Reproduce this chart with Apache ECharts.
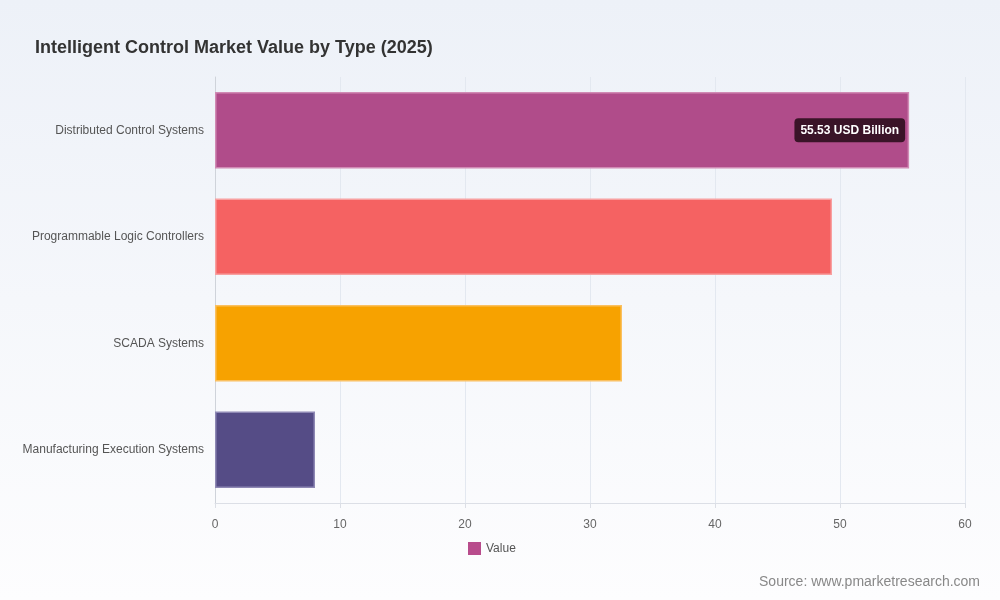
<!DOCTYPE html>
<html>
<head>
<meta charset="utf-8">
<script src="https://cdn.jsdelivr.net/npm/echarts@6/dist/echarts.min.js"></script>
<style>
  html, body { margin: 0; padding: 0; }
  #market-type { width: 1000px; height: 600px; }
</style>
</head>
<body>
<div id="market-type"></div>
<script>
var categories = [
  "Distributed Control Systems",
  "Programmable Logic Controllers",
  "SCADA Systems",
  "Manufacturing Execution Systems"
];
var values = [55.53, 49.36, 32.56, 8.0];
var barColors = ["#b04c8a", "#f56262", "#f7a200", "#554c86"];
var borderColors = ["#d08ab4", "#f8a0a0", "#fac060", "#8e88b4"];
var xTicks = [0, 10, 20, 30, 40, 50, 60];

var seriesData = values.map(function (v, i) {
  var item = {
    value: v,
    itemStyle: { color: barColors[i], borderColor: borderColors[i], borderWidth: 1.5 }
  };
  if (i === 0) {
    item.label = {
      show: true,
      position: "insideRight",
      distance: 4,
      formatter: "{c} USD Billion",
      color: "#fff",
      fontWeight: "bold",
      fontSize: 12,
      backgroundColor: "#3a1428",
      borderRadius: 4,
      padding: [6, 6]
    };
  }
  return item;
});

var chart = echarts.init(document.getElementById("market-type"));
chart.setOption({
  backgroundColor: new echarts.graphic.LinearGradient(0, 0, 0, 1, [
    { offset: 0, color: "#edf1f8" },
    { offset: 1, color: "#fdfdfe" }
  ]),
  title: {
    text: "Intelligent Control Market Value by Type (2025)",
    left: 30,
    top: 34,
    textStyle: { color: "#333", fontSize: 18, fontWeight: "bold" }
  },
  legend: {
    bottom: 40,
    left: 463,
    itemWidth: 13,
    itemHeight: 13,
    itemGap: 6,
    icon: "rect",
    data: [{ name: "Value", itemStyle: { color: "#b84c8c" } }],
    textStyle: { color: "#555", fontSize: 12 }
  },
  graphic: [{
    type: "text",
    right: 20,
    top: 575,
    style: { text: "Source: www.pmarketresearch.com", fill: "#888", fontSize: 14 }
  }],
  grid: { left: 215, right: 35, top: 77, bottom: 97 },
  xAxis: {
    type: "value",
    min: xTicks[0],
    max: xTicks[xTicks.length - 1],
    interval: 10,
    axisLine: { show: true, lineStyle: { color: "#dcdfe6" } },
    axisTick: { show: true, lineStyle: { color: "#dcdfe6" } },
    axisLabel: { color: "#666", fontSize: 12, margin: 16 },
    splitLine: { show: true, lineStyle: { color: "#e3e8f0" } }
  },
  yAxis: {
    type: "category",
    inverse: true,
    data: categories,
    axisLine: { show: true, lineStyle: { color: "#cfd3da" } },
    axisTick: { show: false },
    axisLabel: { color: "#555", fontSize: 12, margin: 11 }
  },
  series: [{
    name: "Value",
    type: "bar",
    barWidth: "72%",
    data: seriesData
  }]
});
</script>
</body>
</html>
